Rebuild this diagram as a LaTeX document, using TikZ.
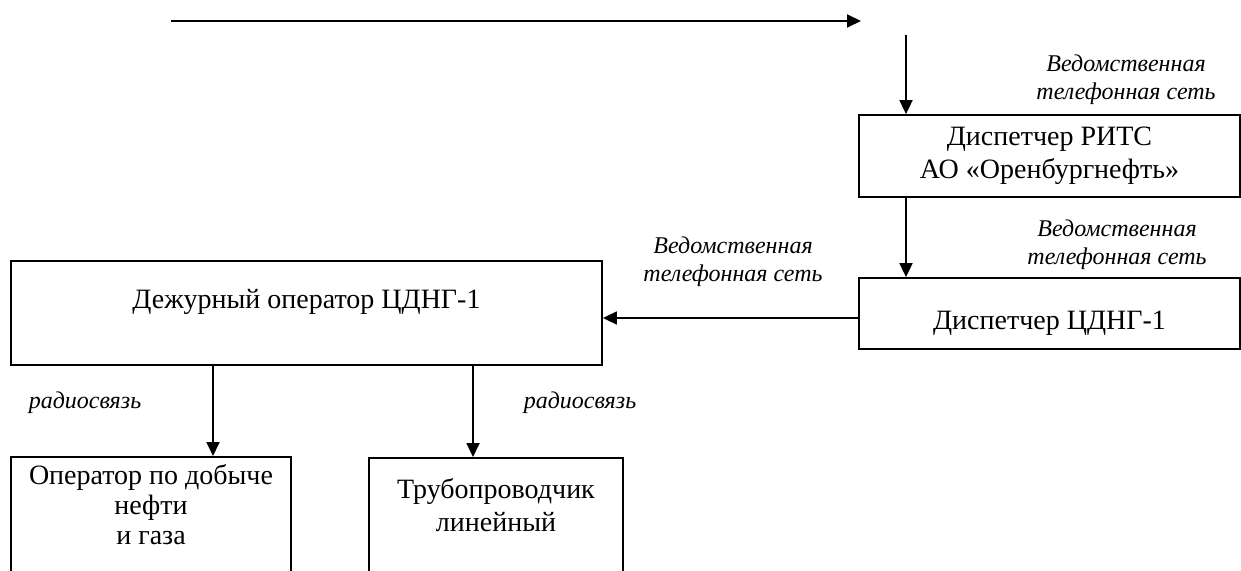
\documentclass[tikz,border=0pt]{standalone}
\usepackage{fontspec}
\setmainfont{Liberation Serif}
\usetikzlibrary{positioning,arrows.meta}

\tikzset{
  box/.style={draw, line width=0.9pt, align=center, inner sep=4pt,
    font=\fontsize{14}{16.5}\selectfont},
  lbl/.style={align=center, inner sep=0pt, font=\fontsize{12}{14}\selectfont\itshape},
  link/.style={-{Triangle[length=7pt,width=6.5pt]}, line width=0.9pt},
}

\begin{document}
\begin{tikzpicture}[x=0.5pt, y=-0.5pt]
\useasboundingbox (0,0) rectangle (1241,571);

% boxes
\node[box, minimum width=190.5pt, minimum height=41pt] (rits) at (1049.5,156)
  {Диспетчер РИТС\\АО «Оренбургнефть»};
\node[box, minimum width=190.5pt, minimum height=35.5pt, text height=18.5pt, text depth=2pt] (disp) at (1049.5,313.5)
  {Диспетчер ЦДНГ-1};
\node[box, minimum width=295.5pt, minimum height=52pt, text height=9pt, text depth=13pt] (duty) at (306.5,313)
  {Дежурный оператор ЦДНГ-1};
\node[box, anchor=north, minimum width=140pt, font=\fontsize{14}{15}\selectfont,
  text height=40pt, text depth=24pt] (oper) at (151,456)
  {Оператор по добыче\\нефти\\и газа};
\node[box, anchor=north, minimum width=127pt, text height=33pt, text depth=31pt] (pipe) at (496,457)
  {Трубопроводчик\\линейный};

% labels
\node[lbl] (net1) at (1126,80) {Ведомственная\\телефонная сеть};
\node[lbl] (net2) at (1117,245) {Ведомственная\\телефонная сеть};
\node[lbl] (net3) at (733,262) {Ведомственная\\телефонная сеть};
\node[lbl] (radio1) at (85,403) {радиосвязь};
\node[lbl] (radio2) at (580,403) {радиосвязь};

% arrows
\coordinate (start) at (171,21);
\coordinate (end) at (861,21);
\coordinate (feed) at (906,35);
\coordinate (hl) at (0,318);
\coordinate (d1) at (213,0);
\coordinate (d2) at (473,0);
\draw[link] (start) -- (end);
\draw[link] (feed) -- (feed |- rits.north);
\draw[link] (feed |- rits.south) -- (feed |- disp.north);
\draw[link] (hl -| disp.west) -- (hl -| duty.east);
\draw[link] (d1 |- duty.south) -- (d1 |- oper.north);
\draw[link] (d2 |- duty.south) -- (d2 |- pipe.north);
\end{tikzpicture}
\end{document}
